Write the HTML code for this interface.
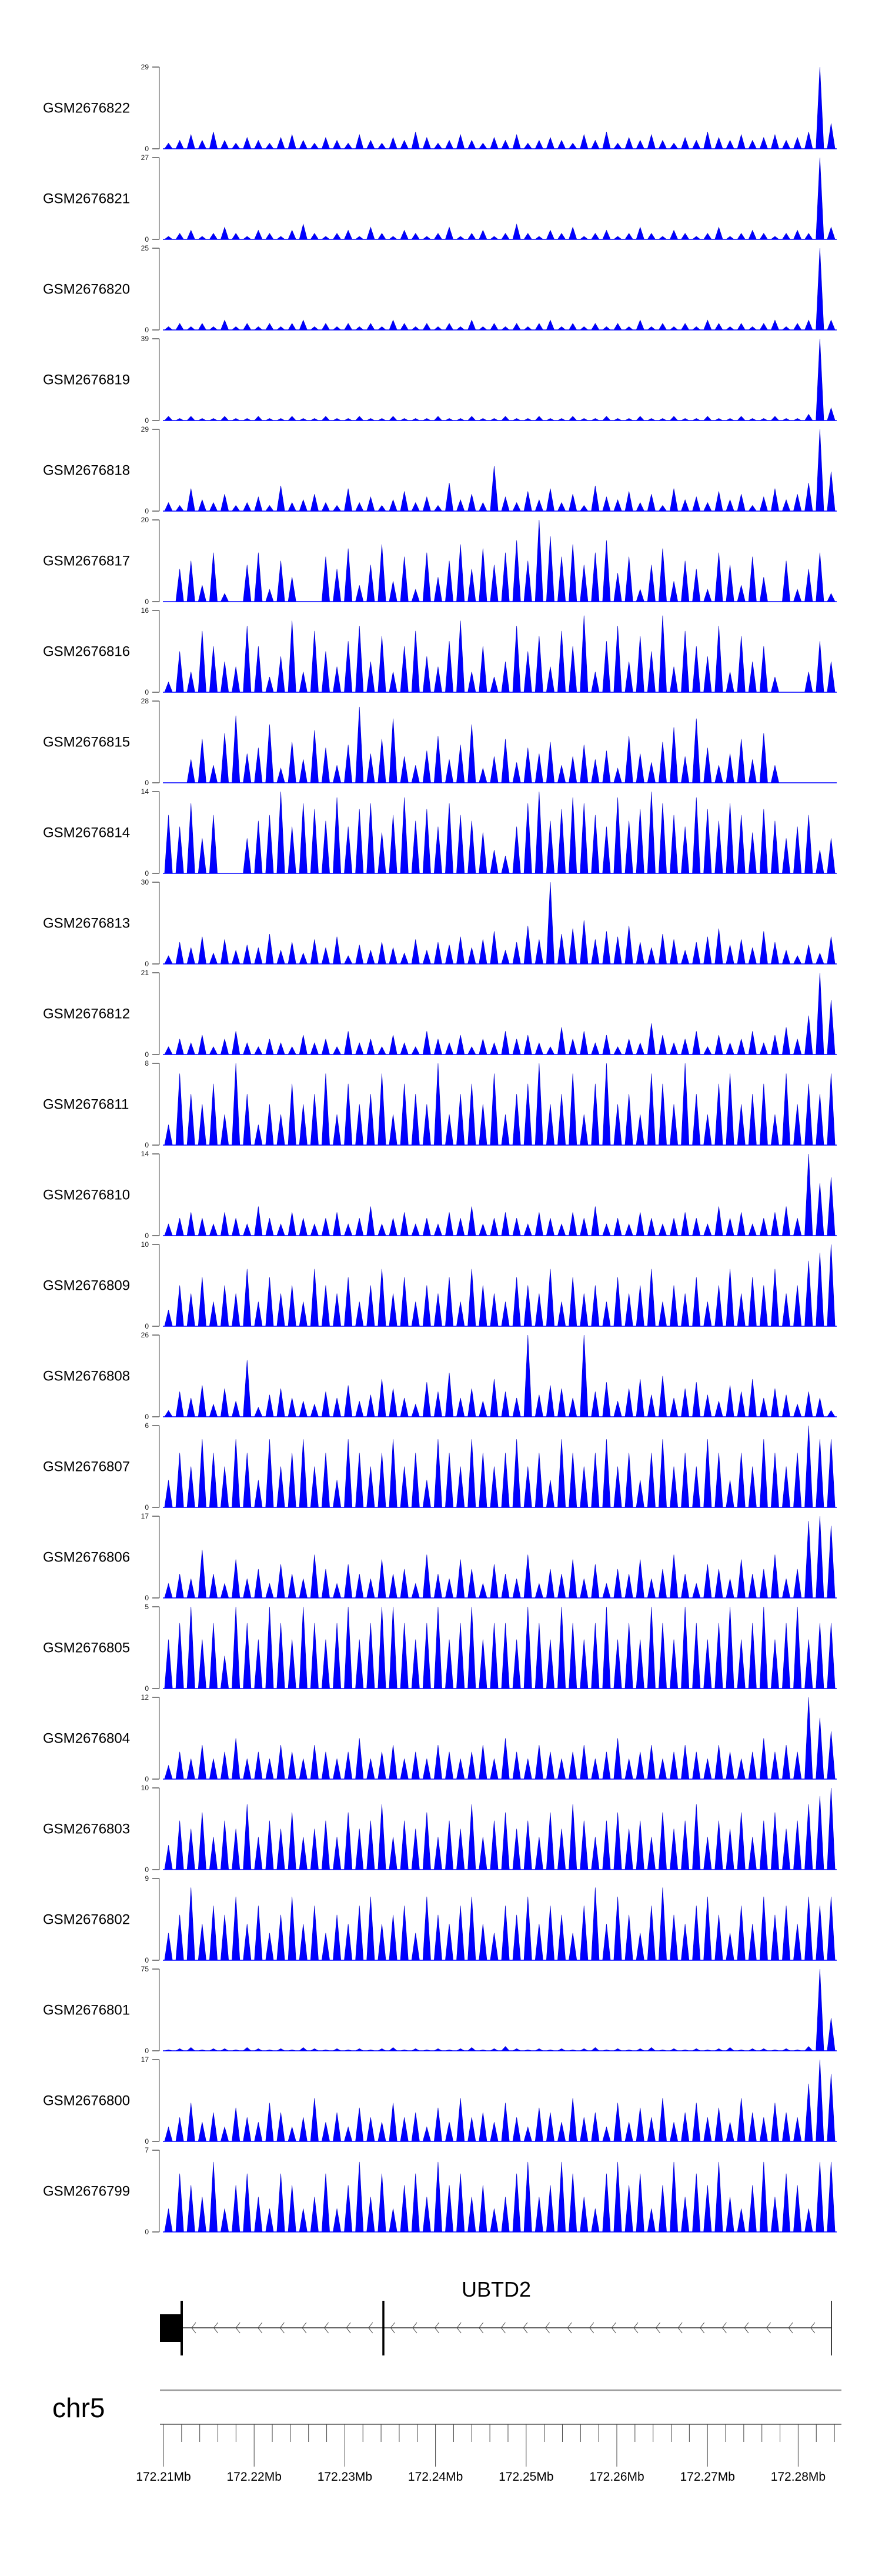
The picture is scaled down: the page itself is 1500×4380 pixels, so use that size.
<!DOCTYPE html>
<html><head><meta charset="utf-8"><title>Coverage tracks</title>
<style>html,body{margin:0;padding:0;background:#fff}svg{display:block}text{font-family:"Liberation Sans",sans-serif}</style>
</head><body>
<svg id="chart" width="1500" height="4380" xmlns="http://www.w3.org/2000/svg"></svg>
<script>
const trackNames = ["GSM2676822","GSM2676821","GSM2676820","GSM2676819","GSM2676818","GSM2676817","GSM2676816","GSM2676815","GSM2676814","GSM2676813","GSM2676812","GSM2676811","GSM2676810","GSM2676809","GSM2676808","GSM2676807","GSM2676806","GSM2676805","GSM2676804","GSM2676803","GSM2676802","GSM2676801","GSM2676800","GSM2676799"];
const trackMax = [29,27,25,39,29,20,16,28,14,30,21,8,14,10,26,6,17,5,12,10,9,75,17,7];
const v822=[2,3,5,3,6,3,2,4,3,2,4,5,3,2,4,3,2,5,3,2,4,3,6,4,2,3,5,3,2,4,3,5,2,3,4,3,2,5,3,6,2,4,3,5,3,2,4,3,6,4,3,5,3,4,5,3,4,6,29,9];
const v821=[1,2,3,1,2,4,2,1,3,2,1,3,5,2,1,2,3,1,4,2,1,3,2,1,2,4,1,2,3,1,2,5,2,1,3,2,4,1,2,3,1,2,4,2,1,3,2,1,2,4,1,2,3,2,1,2,3,2,27,4];
const v820=[1,2,1,2,1,3,1,2,1,2,1,2,3,1,2,1,2,1,2,1,3,2,1,2,1,2,1,3,1,2,1,2,1,2,3,1,2,1,2,1,2,1,3,1,2,1,2,1,3,2,1,2,1,2,3,1,2,3,25,3];
const v819=[2,1,2,1,1,2,1,1,2,1,1,2,1,1,2,1,1,2,1,1,2,1,1,1,2,1,1,2,1,1,2,1,1,2,1,1,2,1,1,2,1,1,2,1,1,2,1,1,2,1,1,2,1,1,2,1,1,3,39,6];
const v818=[3,2,8,4,3,6,2,3,5,2,9,3,4,6,3,2,8,3,5,2,4,7,3,5,2,10,4,6,3,16,5,3,7,4,8,3,6,2,9,5,4,7,3,6,2,8,4,5,3,7,4,6,2,5,8,4,6,10,29,14];
const v817=[0,8,10,4,12,2,0,9,12,3,10,6,0,0,11,8,13,4,9,14,5,11,3,12,6,10,14,8,13,9,12,15,10,20,16,11,14,9,12,15,7,11,3,9,13,5,10,8,3,12,9,4,11,6,0,10,3,8,12,2];
const v816=[2,8,4,12,9,6,5,13,9,3,7,14,4,12,8,5,10,13,6,11,4,9,12,7,5,10,14,4,9,3,6,13,8,11,5,12,9,15,4,10,13,6,11,8,15,5,12,9,7,13,4,11,6,9,3,0,0,4,10,6];
const v815=[0,0,8,15,6,17,23,10,12,20,5,14,8,18,12,6,13,26,10,15,22,9,6,11,16,8,13,20,5,9,15,7,12,10,14,6,9,13,8,11,5,16,10,7,14,19,9,22,12,6,10,15,8,17,6,0,0,0,0,0];
const v814=[10,8,12,6,10,0,0,6,9,10,14,8,12,11,9,13,8,11,12,7,10,13,9,11,8,12,10,9,7,4,3,8,12,14,9,11,13,12,10,8,13,9,11,14,12,10,8,13,11,9,12,10,7,11,9,6,8,10,4,6];
const v813=[3,8,6,10,4,9,5,7,6,11,5,8,4,9,6,10,3,7,5,8,6,4,9,5,8,7,10,6,9,12,5,8,14,9,30,11,13,16,9,12,10,14,8,6,11,9,5,8,10,13,7,9,6,12,8,5,3,7,4,10];
const v812=[2,4,3,5,2,4,6,3,2,4,3,2,5,3,4,2,6,3,4,2,5,3,2,6,4,3,5,2,4,3,6,4,5,3,2,7,4,6,3,5,2,4,3,8,5,3,4,6,2,5,3,4,6,3,5,7,4,10,21,14];
const v811=[2,7,5,4,6,3,8,5,2,4,3,6,4,5,7,3,6,4,5,7,3,6,5,4,8,3,5,6,4,7,3,5,6,8,4,5,7,3,6,8,4,5,3,7,6,4,8,5,3,6,7,4,5,6,3,7,4,6,5,7];
const v810=[2,3,4,3,2,4,3,2,5,3,2,4,3,2,3,4,2,3,5,2,3,4,2,3,2,4,3,5,2,3,4,3,2,4,3,2,4,3,5,2,3,2,4,3,2,3,4,3,2,5,3,4,2,3,4,5,3,14,9,10];
const v809=[2,5,4,6,3,5,4,7,3,6,4,5,3,7,5,4,6,3,5,7,4,6,3,5,4,6,3,7,5,4,3,6,5,4,7,3,6,4,5,3,6,4,5,7,3,5,4,6,3,5,7,4,6,5,7,4,5,8,9,10];
const v808=[2,8,6,10,4,9,5,18,3,7,9,6,5,4,8,6,10,5,7,12,9,6,4,11,8,14,6,9,5,12,8,6,26,7,10,9,6,26,8,11,5,9,12,7,13,6,9,11,7,5,10,8,12,6,9,7,4,8,6,2];
const v807=[2,4,3,5,4,3,5,4,2,5,3,4,5,3,4,2,5,4,3,4,5,3,4,2,5,4,3,5,4,3,4,5,3,4,2,5,4,3,4,5,3,4,2,4,5,3,4,3,5,4,2,4,3,5,4,3,4,6,5,5];
const v806=[3,5,4,10,5,3,8,4,6,3,7,5,4,9,6,3,7,5,4,8,5,6,3,9,5,4,8,6,3,7,5,4,9,3,6,5,8,4,7,3,6,5,8,4,6,9,5,3,7,6,4,8,5,6,9,4,6,16,17,15];
const v805=[3,4,5,3,4,2,5,4,3,5,4,3,5,4,3,4,5,3,4,5,5,4,3,4,5,3,4,5,3,4,4,3,5,4,3,5,4,3,4,5,3,4,3,5,4,3,5,4,3,4,5,3,4,5,3,4,5,3,4,4];
const v804=[2,4,3,5,3,4,6,3,4,3,5,4,3,5,4,3,4,6,3,4,5,3,4,3,5,4,3,4,5,3,6,4,3,5,4,3,4,5,3,4,6,3,4,5,3,4,5,4,3,5,4,3,4,6,4,5,4,12,9,7];
const v803=[3,6,5,7,4,6,5,8,4,6,5,7,4,5,6,4,7,5,6,8,4,6,5,7,4,6,5,8,4,6,7,5,6,4,7,5,8,6,4,6,7,5,6,4,7,5,6,8,4,6,5,7,4,6,7,5,6,8,9,10];
const v802=[3,5,8,4,6,5,7,4,6,3,5,7,4,6,3,5,4,6,7,4,5,6,3,7,5,4,6,7,4,3,6,5,7,4,6,5,3,6,8,4,7,5,3,6,8,5,4,6,7,5,3,6,4,7,5,6,4,7,6,7];
const v801=[1,2,3,1,2,2,1,3,2,1,2,1,3,2,1,2,1,2,1,2,3,1,2,1,2,1,2,3,1,2,4,2,1,2,1,2,1,2,3,1,2,1,2,3,1,2,1,2,1,2,3,1,2,2,1,2,1,4,75,30];
const v800=[3,5,8,4,6,3,7,5,4,8,6,3,5,9,4,6,3,7,5,4,8,5,6,3,7,4,9,5,6,4,8,5,3,7,6,4,9,5,6,3,8,4,7,5,9,4,6,8,5,7,4,9,6,5,8,6,5,12,17,14];
const v799=[2,5,4,3,6,2,4,5,3,2,5,4,2,3,5,2,4,6,3,5,2,4,5,3,6,4,5,3,4,2,3,5,6,3,4,6,5,3,2,5,6,4,5,2,4,6,3,5,4,6,3,2,4,6,3,5,4,2,6,6];
const trackValues=[v822,v821,v820,v819,v818,v817,v816,v815,v814,v813,v812,v811,v810,v809,v808,v807,v806,v805,v804,v803,v802,v801,v800,v799];
const axisTicks=["172.21Mb","172.22Mb","172.23Mb","172.24Mb","172.25Mb","172.26Mb","172.27Mb","172.28Mb"];

const NS="http://www.w3.org/2000/svg";
const svg=document.getElementById('chart');
function mk(tag,attrs,parent){const e=document.createElementNS(NS,tag);for(const k in attrs)e.setAttribute(k,attrs[k]);(parent||svg).appendChild(e);return e;}
const X0=277,X1=1423,TOP0=114,STEP=154,H=139;

trackNames.forEach((name,i)=>{
  const top=TOP0+STEP*i, base=top+H, vals=trackValues[i], mx=trackMax[i];
  const g=mk('g',{});
  
  
  const yS=v=>base-(v/mx)*H;
  const n=vals.length, bw=(X1-X0)/n;
  let pts=[X0+','+base];
  vals.forEach((v,j)=>{const xs=X0+bw*j;
    pts.push((xs+bw*0.15)+','+base);
    pts.push((xs+bw*0.5)+','+yS(v));
    pts.push((xs+bw*0.85)+','+base);});
  pts.push(X1+','+base);
  const area=mk('polygon',{points:pts.join(' '),fill:'#0000ff',stroke:'#0000cc','stroke-width':0.6},g);
  
  
  mk('line',{x1:X0,y1:base,x2:X1,y2:base,stroke:'#0000ff','stroke-width':1.5},g);
  mk('line',{x1:271,y1:top,x2:271,y2:base,stroke:'#888','stroke-width':1.5},g);
  mk('line',{x1:259,y1:top,x2:271,y2:top,stroke:'#555','stroke-width':1.5},g);
  mk('line',{x1:259,y1:base,x2:271,y2:base,stroke:'#555','stroke-width':1.5},g);
  const tmax=mk('text',{x:253,y:top+4,'text-anchor':'end','font-size':12,fill:'#222'},g);tmax.textContent=mx;
  
  
  const t0=mk('text',{x:253,y:base+4,'text-anchor':'end','font-size':12,fill:'#222'},g);t0.textContent='0';
  
  
  const lab=mk('text',{x:73,y:(top+base)/2+8,'font-size':24,fill:'#000'},g);lab.textContent=name;
  
  
});

// gene track
const gg=mk('g',{});


const gname=mk('text',{x:844,y:3905,'text-anchor':'middle','font-size':36,fill:'#000'},gg);gname.textContent='UBTD2';


mk('line',{x1:308,y1:3958,x2:1414,y2:3958,stroke:'#333','stroke-width':1.5},gg);
mk('rect',{x:272,y:3935,width:36,height:47,fill:'#000'},gg);
mk('line',{x1:309,y1:3912,x2:309,y2:4005,stroke:'#000','stroke-width':4},gg);
mk('line',{x1:652,y1:3912,x2:652,y2:4005,stroke:'#000','stroke-width':3.5},gg);
mk('line',{x1:1414,y1:3912,x2:1414,y2:4005,stroke:'#000','stroke-width':1.5},gg);
for(let x=326;x<1405;x+=37.6){ if(Math.abs(x-652)<12) continue;
  mk('polyline',{points:(x+7)+','+(3949)+' '+x+','+3958+' '+(x+7)+','+3967,fill:'none',stroke:'#444','stroke-width':1},gg);}

// chromosome axis
mk('line',{x1:272,y1:4064,x2:1431,y2:4064,stroke:'#999','stroke-width':2.5});
const chr=mk('text',{x:89,y:4110,'font-size':46,fill:'#000'});chr.textContent='chr5';


const ag=mk('g',{});


mk('line',{x1:272,y1:4122,x2:1431,y2:4122,stroke:'#555','stroke-width':1.5},ag);
const MAJ=154.2, A0=278;
for(let k=0;k*MAJ/5+A0<=1424;k++){const x=A0+k*MAJ/5;const major=(k%5===0);
  mk('line',{x1:x,y1:4122,x2:x,y2:major?4194:4152,stroke:'#444','stroke-width':1},ag);}
axisTicks.forEach((t,i)=>{const tx=mk('text',{x:A0+i*MAJ,y:4218,'text-anchor':'middle','font-size':21,fill:'#000'},ag);tx.textContent=t;
  
  });
</script>
</body></html>
